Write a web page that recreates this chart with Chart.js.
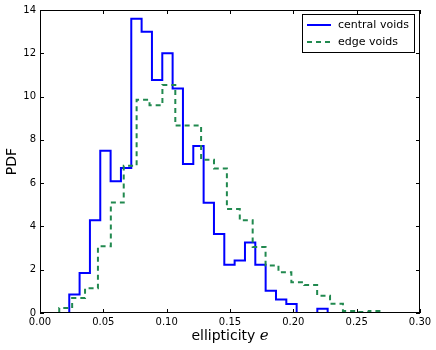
<!DOCTYPE html>
<html>
<head>
<meta charset="utf-8">
<script src="https://cdn.jsdelivr.net/npm/chart.js@4"></script>
<style>
  html, body { margin: 0; padding: 0; background: #fff; }
  canvas { display: block; }
</style>
</head>
<body>
<canvas id="chart" width="436" height="350"></canvas>
<script>
// histogram bins (ellipticity) and PDF values
const centralStart = 0.0231;
const centralWidth = 0.00816;
const centralValues = [0.85, 1.85, 4.28, 7.5, 6.09, 6.7, 13.6, 13.0, 10.77, 12.0,
    10.37, 6.89, 7.72, 5.09, 3.65, 2.23, 2.43, 3.26, 2.23, 1.03,
    0.62, 0.42, 0, 0, 0.2];

const edgeStart = 0.0152;
const edgeWidth = 0.01018;
const edgeValues = [0.23, 0.69, 1.14, 3.08, 5.1, 6.8, 9.85, 9.6, 10.54, 8.66,
    8.66, 7.08, 6.68, 4.8, 4.28, 3.05, 2.2, 1.88, 1.42, 1.29,
    0.8, 0.43, 0.09, 0.05, 0.09];

const seriesLabels = ['central voids', 'edge voids'];
const xTickStep = 0.05;
const yTickStep = 2;

const BLUE = '#0000ff';
const GREEN = '#21894f';
const FONT = '"DejaVu Sans", sans-serif';

// turn bins into a step outline (like histtype='step')
function stepPoints(start, width, values) {
    const pts = [{ x: start, y: 0 }];
    values.forEach((v, i) => pts.push({ x: start + i * width, y: v }));
    const end = start + values.length * width;
    pts.push({ x: end, y: values[values.length - 1] });
    pts.push({ x: end, y: 0 });
    return pts;
}

// frame, inward ticks on all four sides, legend box and x title
const decorations = {
    id: 'decorations',
    afterDraw(chart) {
        const ctx = chart.ctx;
        const a = chart.chartArea;
        const xs = chart.scales.x, ys = chart.scales.y;
        ctx.save();
        ctx.strokeStyle = '#000';
        ctx.lineWidth = 1;
        ctx.strokeRect(a.left + 0.5, a.top + 0.5, a.right - a.left - 1, a.bottom - a.top - 1);

        ctx.beginPath();
        const tl = 4;
        xs.ticks.forEach(t => {
            const px = Math.round(xs.getPixelForValue(t.value)) + 0.5;
            ctx.moveTo(px, a.bottom); ctx.lineTo(px, a.bottom - tl);
            ctx.moveTo(px, a.top); ctx.lineTo(px, a.top + tl);
        });
        ys.ticks.forEach(t => {
            const py = Math.round(ys.getPixelForValue(t.value)) + 0.5;
            ctx.moveTo(a.left, py); ctx.lineTo(a.left + tl, py);
            ctx.moveTo(a.right, py); ctx.lineTo(a.right - tl, py);
        });
        ctx.stroke();

        // legend
        const bx = 302, by = 14, bw = 112, bh = 38;
        ctx.fillStyle = '#fff';
        ctx.fillRect(bx, by, bw, bh);
        ctx.strokeStyle = '#000';
        ctx.strokeRect(bx + 0.5, by + 0.5, bw, bh);
        const rows = [
            { label: seriesLabels[0], color: BLUE, dash: [] },
            { label: seriesLabels[1], color: GREEN, dash: [5, 4] }
        ];
        rows.forEach((r, i) => {
            const y = by + 11 + i * 17;
            ctx.beginPath();
            ctx.setLineDash(r.dash);
            ctx.strokeStyle = r.color;
            ctx.lineWidth = 2;
            ctx.moveTo(307, y); ctx.lineTo(331, y);
            ctx.stroke();
            ctx.setLineDash([]);
            ctx.fillStyle = '#000';
            ctx.font = '11px ' + FONT;
            ctx.textBaseline = 'middle';
            ctx.textAlign = 'left';
            ctx.fillText(r.label, 338, y);
        });

        // x axis title: "ellipticity e" with math italic e
        const word = 'ellipticity ';
        ctx.font = '14px ' + FONT;
        const w1 = ctx.measureText(word).width;
        ctx.font = 'italic 15px "DejaVu Serif", serif';
        const w2 = ctx.measureText('e').width;
        let x0 = (a.left + a.right) / 2 - (w1 + w2) / 2;
        ctx.textBaseline = 'alphabetic';
        ctx.fillStyle = '#000';
        ctx.font = '14px ' + FONT;
        ctx.fillText(word, x0, 340);
        ctx.font = 'italic 15px "DejaVu Serif", serif';
        ctx.fillText('e', x0 + w1, 340);
        ctx.restore();
    }
};

new Chart(document.getElementById('chart'), {
    type: 'line',
    data: {
        datasets: [
            {
                label: seriesLabels[0],
                data: stepPoints(centralStart, centralWidth, centralValues),
                borderColor: BLUE,
                borderWidth: 2,
                stepped: 'before',
                pointRadius: 0,
                fill: false,
                order: 1
            },
            {
                label: seriesLabels[1],
                data: stepPoints(edgeStart, edgeWidth, edgeValues),
                borderColor: GREEN,
                borderWidth: 2,
                borderDash: [5, 4],
                stepped: 'before',
                pointRadius: 0,
                fill: false,
                order: 0
            }
        ]
    },
    options: {
        responsive: false,
        animation: false,
        devicePixelRatio: 1,
        layout: { padding: { top: 10, right: 16, left: 0, bottom: 0 } },
        plugins: {
            legend: { display: false },
            tooltip: { enabled: false }
        },
        scales: {
            x: {
                type: 'linear',
                min: 0,
                max: 0.3,
                grid: { display: false, drawTicks: false },
                border: { display: false },
                ticks: {
                    stepSize: xTickStep,
                    autoSkip: false,
                    maxRotation: 0,
                    padding: 3,
                    color: '#000',
                    font: { family: FONT, size: 10 },
                    callback: v => v.toFixed(2)
                },
                afterFit: s => { s.height = 37; }
            },
            y: {
                min: 0,
                max: 14,
                grid: { display: false, drawTicks: false },
                border: { display: false },
                ticks: {
                    stepSize: yTickStep,
                    padding: 4,
                    color: '#000',
                    font: { family: FONT, size: 10 }
                },
                title: {
                    display: true,
                    text: 'PDF',
                    color: '#000',
                    font: { family: FONT, size: 14 },
                    padding: { top: 4, bottom: 0 }
                },
                afterFit: s => { s.width = 40; }
            }
        }
    },
    plugins: [decorations]
});
</script>
</body>
</html>
